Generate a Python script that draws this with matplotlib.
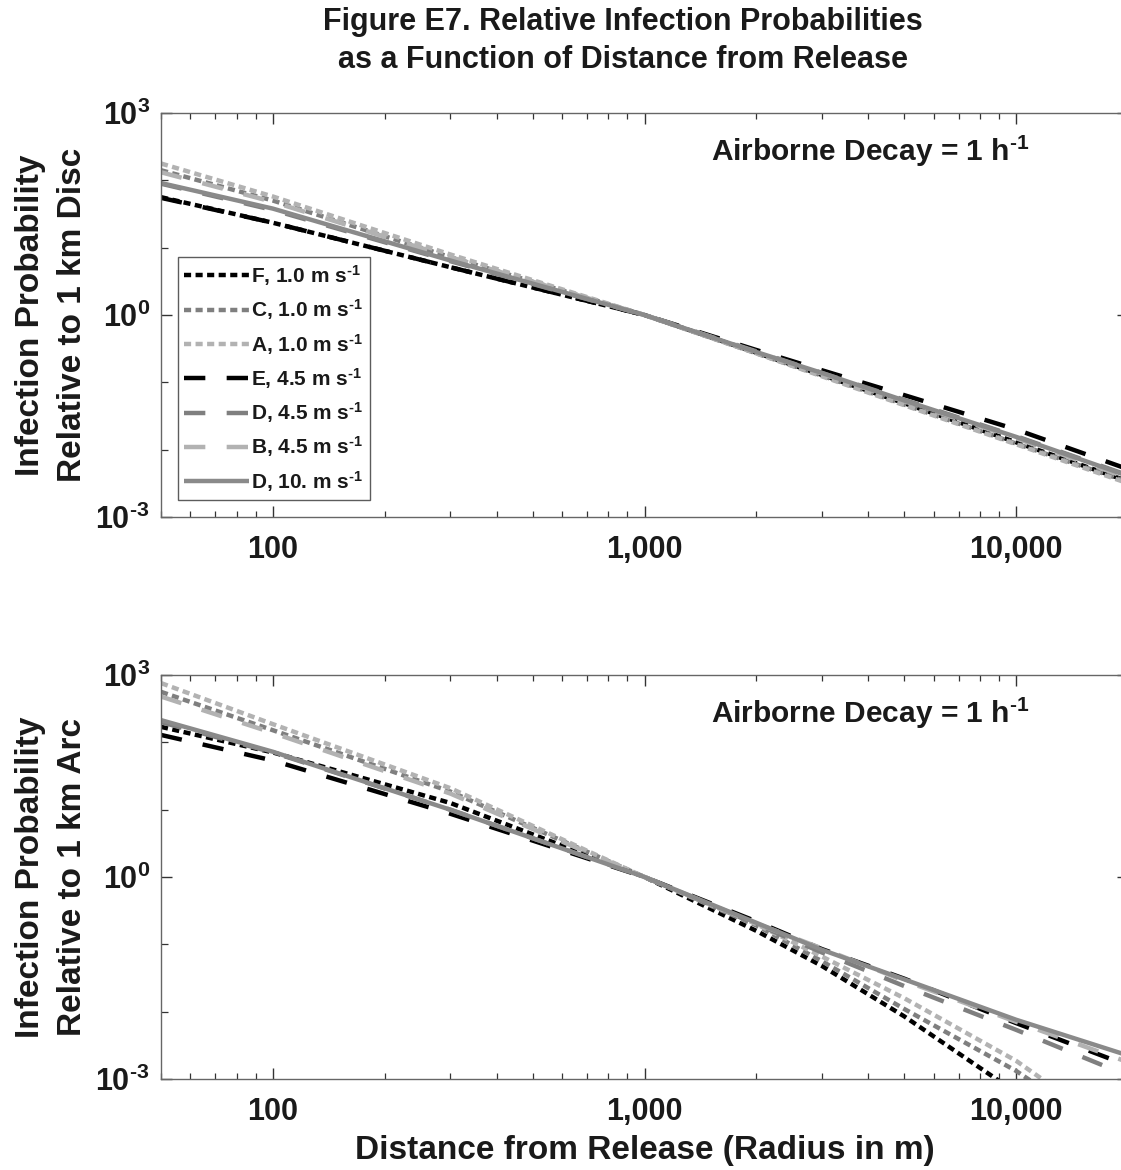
import numpy as np
import matplotlib
matplotlib.use("Agg")
import matplotlib.pyplot as plt
from matplotlib.ticker import FixedLocator, FuncFormatter, NullFormatter

plt.rcParams['font.family'] = ['Liberation Sans', 'DejaVu Sans']
plt.rcParams['font.weight'] = 'bold'
plt.rcParams['mathtext.fontset'] = 'custom'
plt.rcParams['mathtext.rm'] = 'Liberation Sans:bold'
plt.rcParams['mathtext.bf'] = 'Liberation Sans:bold'
plt.rcParams['mathtext.it'] = 'Liberation Sans:bold'
plt.rcParams['mathtext.default'] = 'bf'

# ---- data -------------------------------------------------------------
distance_m = [50, 100, 300, 1000, 2000, 3000, 5000, 10000, 20000]

series_labels = [r"F, 1.0 m s$^{\text{-1}}$", r"C, 1.0 m s$^{\text{-1}}$", r"A, 1.0 m s$^{\text{-1}}$",
                 r"E, 4.5 m s$^{\text{-1}}$", r"D, 4.5 m s$^{\text{-1}}$", r"B, 4.5 m s$^{\text{-1}}$",
                 r"D, 10. m s$^{\text{-1}}$"]

# log10 of relative infection probability, relative to 1 km disc (top panel)
disc_F = [1.75, 1.37, 0.71, 0, -0.56, -0.89, -1.31, -1.89, -2.47]
disc_C = [2.15, 1.70, 0.86, 0, -0.57, -0.90, -1.33, -1.91, -2.48]
disc_A = [2.25, 1.76, 0.90, 0, -0.57, -0.91, -1.34, -1.92, -2.50]
disc_E = [1.74, 1.37, 0.71, 0, -0.52, -0.82, -1.19, -1.70, -2.29]
disc_D45 = [1.95, 1.56, 0.80, 0, -0.54, -0.86, -1.26, -1.80, -2.38]
disc_B = [2.12, 1.68, 0.86, 0, -0.55, -0.87, -1.28, -1.83, -2.42]
disc_D10 = [1.96, 1.58, 0.81, 0, -0.55, -0.86, -1.27, -1.81, -2.39]

# log10 of relative infection probability, relative to 1 km arc (bottom panel)
arc_F = [2.23, 1.85, 1.10, 0, -0.80, -1.32, -2.07, -3.20, -4.5]
arc_C = [2.75, 2.18, 1.27, 0, -0.72, -1.25, -1.96, -2.88, -4.0]
arc_A = [2.88, 2.27, 1.32, 0, -0.70, -1.18, -1.80, -2.73, -3.9]
arc_E = [2.11, 1.73, 0.94, 0, -0.66, -1.07, -1.51, -2.17, -2.80]
arc_D45 = [2.30, 1.85, 1.00, 0, -0.70, -1.12, -1.62, -2.27, -2.95]
arc_B = [2.68, 2.14, 1.24, 0, -0.69, -1.06, -1.54, -2.15, -2.75]
arc_D10 = [2.33, 1.86, 1.00, 0, -0.68, -1.08, -1.52, -2.12, -2.65]

x_tick_values = [100, 1000, 10000]
x_tick_labels = ["100", "1,000", "10,000"]
y_tick_values = [1e-3, 1e0, 1e3]
y_tick_labels = [r"10$^{\text{-3}}$", "10$^{0}$", "10$^{3}$"]

# ---- styles -------------------------------------------------------------
BLACK = '#000000'
MID = '#7f7f7f'
LIGHT = '#b2b2b2'
SOLID = '#8a8a8a'
TXT = '#1a1a1a'
dot = (0, (1.6, 1.0))
dash = (0, (4.8, 4.8))
styles = [(BLACK, dot), (MID, dot), (LIGHT, dot),
          (BLACK, dash), (MID, dash), (LIGHT, dash),
          (SOLID, '-')]

W, H = 1121, 1170
fig = plt.figure(figsize=(W / 100, H / 100), dpi=100)

def px_axes(left, top, right, bottom):
    return fig.add_axes([left / W, 1 - bottom / H, (right - left) / W, (bottom - top) / H])

ax1 = px_axes(161, 113, 1128, 517)
ax2 = px_axes(161, 675, 1128, 1079)

panels = [
    (ax1, [disc_F, disc_C, disc_A, disc_E, disc_D45, disc_B, disc_D10],
     "Infection Probability\nRelative to 1 km Disc"),
    (ax2, [arc_F, arc_C, arc_A, arc_E, arc_D45, arc_B, arc_D10],
     "Infection Probability\nRelative to 1 km Arc"),
]

for ax, data, ylab in panels:
    for vals, (col, ls), lab in zip(data, styles, series_labels):
        ax.plot(distance_m, 10 ** np.array(vals, dtype=float), color=col,
                linestyle=ls, linewidth=3.2, label=lab, solid_capstyle='butt',
                dash_capstyle='butt')
    ax.set_xscale('log')
    ax.set_yscale('log')
    ax.set_xlim(50, 20000)
    ax.set_ylim(1e-3, 1e3)
    ax.xaxis.set_major_locator(FixedLocator(x_tick_values))
    ax.xaxis.set_major_formatter(FuncFormatter(
        lambda v, p: x_tick_labels[x_tick_values.index(int(round(v)))] if int(round(v)) in x_tick_values else ""))
    minors = [m * d for d in [10, 100, 1000, 10000] for m in range(2, 10) if 50 <= m * d <= 20000]
    ax.xaxis.set_minor_locator(FixedLocator(minors))
    ax.xaxis.set_minor_formatter(NullFormatter())
    ax.yaxis.set_major_locator(FixedLocator(y_tick_values))
    ax.set_yticklabels(y_tick_labels)
    ax.yaxis.set_minor_locator(FixedLocator([1e-2, 1e-1, 1e1, 1e2]))
    ax.yaxis.set_minor_formatter(NullFormatter())
    ax.tick_params(which='both', direction='in', top=True, right=True,
                   colors='#333333', labelcolor=TXT)
    ax.tick_params(axis='x', which='major', length=8, width=1.0, labelsize=22, pad=13)
    ax.tick_params(axis='x', which='minor', length=4, width=0.9)
    ax.tick_params(axis='y', which='major', length=8, width=1.0, labelsize=22, pad=8)
    ax.tick_params(axis='y', which='minor', length=5, width=0.9)
    for sp in ax.spines.values():
        sp.set_color('#666666')
        sp.set_linewidth(1.0)
    ax.set_ylabel(ylab, fontsize=24, fontweight='bold', color=TXT, linespacing=1.45,
                  va='center', ha='center')
    ax.yaxis.set_label_coords(-0.113, 0.5)
    ax.text(0.569, 0.905, r"Airborne Decay = 1 h$^{\text{-1}}$", transform=ax.transAxes,
            fontsize=21.5, fontweight='bold', ha='left', va='center', color=TXT)

leg = ax1.legend(loc='upper left', bbox_to_anchor=(0.0176, 0.644), borderaxespad=0,
                 fontsize=15, frameon=True, fancybox=False, handlelength=3.1,
                 handletextpad=0.12, labelspacing=0.45, borderpad=0.3)
leg.get_frame().set_edgecolor('#333333')
leg.get_frame().set_linewidth(1.0)
for t in leg.get_texts():
    t.set_color(TXT)

fig.text(623 / W, 1 - 22 / H, "Figure E7. Relative Infection Probabilities",
         ha='center', va='center', fontsize=22, fontweight='bold', color=TXT)
fig.text(623 / W, 1 - 60 / H, "as a Function of Distance from Release",
         ha='center', va='center', fontsize=22, fontweight='bold', color=TXT)
fig.text(645 / W, 1 - 1150 / H, "Distance from Release (Radius in m)",
         ha='center', va='center', fontsize=24, fontweight='bold', color=TXT)

fig.savefig("out.png", dpi=100)
